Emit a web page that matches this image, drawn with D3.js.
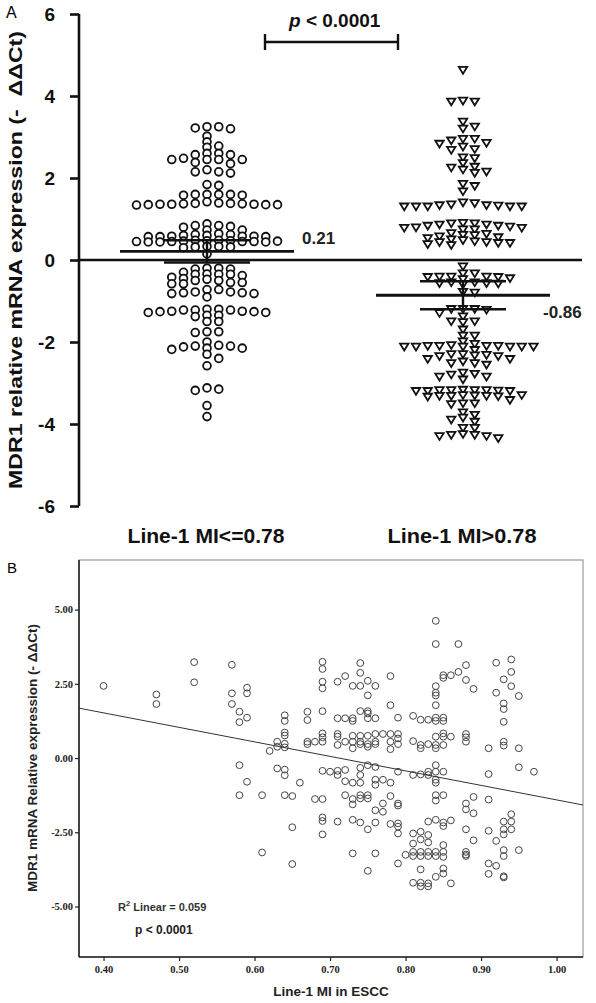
<!DOCTYPE html>
<html><head><meta charset="utf-8">
<script src="https://cdn.jsdelivr.net/npm/d3@7"></script>
<style>body{margin:0;background:#fff}svg{display:block}</style>
</head><body>
<script>
// ---------- Panel A data ----------
const groups = ["Line-1 MI<=0.78", "Line-1 MI>0.78"];
const groupLow = [
  3.25,3.22,3.2,3.25,3.02,
  2.88,2.78,2.75,
  2.6,2.57,2.48,2.45,2.45,2.45,2.45,2.57,2.6,2.35,2.38,
  2.15,2.12,2.15,2.2,
  1.82,1.84,
  1.6,1.6,1.58,1.6,1.6,1.58,
  1.38,1.37,1.36,1.36,1.35,1.35,1.34,1.35,1.36,1.37,1.38,1.39,1.42,
  0.8,0.84,0.82,0.84,0.88,0.73,0.73,
  0.62,0.6,0.58,0.58,0.57,0.57,0.57,0.58,0.6,0.62,0.64,
  0.47,0.46,0.45,0.45,0.44,0.44,0.44,0.45,0.45,0.46,0.47,0.48,0.48,
  0.32,0.33,0.3,0.32,0.33,
  0.15,
  -0.22,-0.2,-0.22,-0.2,-0.3,-0.34,
  -0.35,-0.35,-0.42,-0.47,-0.5,-0.55,-0.58,-0.58,-0.55,-0.5,-0.45,-0.38,-0.35,
  -0.72,-0.78,-0.8,-0.82,-0.9,-0.82,-0.8,-0.78,-0.72,
  -1.22,-1.25,-1.26,-1.28,-1.2,-1.22,-1.22,-1.28,-1.26,-1.25,-1.2,-1.35,-1.35,-1.5,-1.38,-1.5,
  -1.75,-1.77,-1.75,
  -2.0,-2.1,-2.12,-2.15,-2.18,-2.15,-2.1,-2.08,-2.3,-2.4,-2.58,
  -3.18,-3.15,-3.12,
  -3.55,-3.82
];
const groupHigh = [
  4.63,
  3.86,3.86,3.88,
  3.37,3.2,3.25,
  2.95,2.83,2.91,2.76,2.85,2.95,2.68,2.7,
  2.48,2.5,
  2.36,2.27,2.15,2.12,2.2,2.25,
  1.85,1.67,1.8,
  1.38,1.33,1.3,1.3,1.3,1.3,1.3,1.32,1.33,1.35,1.4,
  0.89,0.86,0.83,0.81,0.78,0.74,0.9,0.74,0.78,0.79,0.83,0.86,0.89,
  0.65,0.63,0.61,
  0.57,0.53,0.45,0.43,0.41,0.38,0.36,0.41,0.43,0.48,0.5,0.55,0.6,
  -0.16,
  -0.33,-0.41,-0.42,-0.45,-0.47,-0.41,-0.41,-0.42,-0.33,
  -0.55,-0.57,-0.58,-0.6,-0.57,-0.55,
  -0.78,-0.8,
  -1.2,-1.2,-1.22,-1.2,-1.38,-1.3,
  -1.5,-1.5,-1.52,
  -1.7,-1.85,-1.85,-1.99,
  -2.08,-2.1,-2.1,-2.12,-2.12,-2.12,-2.2,-2.12,-2.12,-2.12,-2.1,-2.1,-2.05,
  -2.3,-2.3,-2.32,-2.42,-2.52,-2.52,-2.56,-2.48,-2.42,-2.35,-2.35,-2.33,
  -2.78,-2.85,-2.92,-2.85,-2.8,-2.75,
  -3.18,-3.18,-3.17,-3.18,-3.2,-3.2,-3.19,-3.18,-3.2,
  -3.32,-3.3,-3.33,-3.31,-3.32,-3.3,-3.34,-3.32,
  -3.5,-3.52,-3.5,-3.42,
  -3.78,-3.9,-3.95,-3.85,-3.72,
  -4.1,-4.27,-4.3,-4.35,-4.3,-4.27,-4.25,-4.1
];
const groupMean = [0.21, -0.86];
const groupSem = [0.27, 0.34];
const meanLabels = ["0.21", "-0.86"];
const yTicksA = [-6, -4, -2, 0, 2, 4, 6];
const pTextA = "< 0.0001";

// ---------- Panel B data ----------
const scatterMI = [0.40,0.47,0.52,0.57,0.58,0.59,0.61,0.62,0.63,0.64,0.65,0.66,0.67,0.68,0.69,0.70,0.71,0.72,0.73,0.74,0.75,0.76,0.77,0.78,0.79,0.80,0.81,0.82,0.83,0.84,0.85,0.86,0.87,0.88,0.89,0.91,0.92,0.93,0.94,0.95,0.97];
const scatterExpr = [
  [2.43],
  [2.14,1.82],
  [3.23,2.55],
  [3.14,2.18,1.82],
  [1.56,1.21,-0.24,-1.25],
  [2.37,2.18,1.36,-0.8],
  [-1.25,-3.18],
  [0.24],
  [0.55,0.38,-0.35],
  [1.44,1.25,0.86,0.76,0.48,0.36,-0.39,-0.58,-1.25],
  [-1.28,-2.33,-3.57],
  [-0.83],
  [1.56,1.28,0.55,0.47],
  [0.55,-1.38],
  [3.24,3.0,2.57,2.35,1.58,0.83,0.7,0.55,-0.43,-1.38,-2.0,-2.12,-2.57],
  [-0.46],
  [2.57,1.34,0.81,0.72,0.44,-0.43,-0.57,-2.14],
  [2.76,1.34,0.55,-0.4,-0.78,-1.25],
  [2.43,1.34,1.25,0.75,0.55,0.33,-0.83,-1.38,-1.56,-2.08,-3.21],
  [3.2,2.87,2.43,1.58,0.75,0.55,0.47,-0.33,-0.57,-0.83,-1.25,-1.36,-2.17],
  [2.6,2.11,1.58,1.5,1.34,0.75,0.47,0.38,-0.24,-1.25,-1.36,-2.4,-3.8],
  [2.43,1.34,0.81,0.55,0.47,-0.3,-0.73,-0.9,-1.76,-2.17,-3.21],
  [0.81,-0.73,-1.53,-1.81],
  [2.76,1.78,0.81,0.55,0.3,-0.83,-1.28,-2.22],
  [1.36,0.81,0.66,0.47,-0.46,-1.53,-1.6,-2.2,-2.31,-2.54,-3.55],
  [-3.26],
  [1.42,0.57,-0.57,-2.54,-2.88,-3.16,-3.3,-4.2],
  [1.29,0.44,0.33,-0.55,-2.48,-2.74,-3.16,-3.3,-3.75,-4.2,-4.32],
  [1.29,0.47,-0.46,-0.57,-2.14,-2.59,-2.84,-3.16,-3.3,-4.22,-4.32],
  [4.62,3.84,2.42,2.2,2.11,1.78,1.36,1.25,0.72,0.44,0.33,-0.24,-0.46,-0.73,-0.83,-1.25,-1.43,-2.08,-3.16,-3.3,-4.0],
  [2.79,2.7,1.36,1.25,0.83,0.72,0.44,-0.46,-1.25,-2.17,-2.29,-2.93,-3.16,-3.33,-3.72,-3.89],
  [2.79,0.72,-2.1,-4.22],
  [3.84,2.9],
  [3.13,2.63,0.81,0.7,0.55,-1.53,-1.73,-2.4,-3.16,-3.25,-3.3],
  [2.33,-1.31,-1.86,-2.77],
  [0.33,-0.54,-1.4,-2.45,-3.55,-3.9],
  [3.21,2.2,-2.79,-3.63],
  [2.65,1.84,1.65,1.22,0.55,0.42,-2.14,-2.4,-2.57,-3.1,-3.3,-3.98,-4.02],
  [3.32,2.9,2.42,-1.89,-2.14,-2.4],
  [2.09,0.33,-0.31,-3.1],
  [-0.46]
];
const fitCoef = [3.476, -4.885]; // intercept, slope
const xTicksB = [0.4, 0.5, 0.6, 0.7, 0.8, 0.9, 1.0];
const yTicksB = [-5, -2.5, 0, 2.5, 5];
const r2Text = "Linear = 0.059";
const pTextB = "p < 0.0001";

// ---------- Drawing ----------
const W = 596, H = 1003;
const svg = d3.select("body").append("svg").attr("width", W).attr("height", H)
  .style("font-family", "'Liberation Sans', Arial, sans-serif");

// ===== Panel A =====
const yA = d3.scaleLinear().domain([-6, 6]).range([506, 14]);
const xA = d3.scalePoint().domain(groups).range([207, 463]);
const colStep = 11.75;

svg.append("text").attr("x", 6).attr("y", 18).attr("font-size", 16).text("A");

const axA = svg.append("g").attr("transform", "translate(79,0)")
  .call(d3.axisLeft(yA).tickValues(yTicksA).tickSize(9).tickFormat(d => String(d)));
axA.select(".domain").attr("stroke", "#111").attr("stroke-width", 2.6)
  .attr("d", `M0,${yA(6)}V${yA(-6)}`);
axA.selectAll(".tick line").attr("stroke", "#111").attr("stroke-width", 2.6);
axA.selectAll(".tick text").attr("font-size", 19).attr("font-weight", "bold")
  .attr("fill", "#111").attr("x", -24).attr("dy", "0.36em")
  .style("font-family", "'Liberation Sans', Arial, sans-serif");

svg.append("text")
  .attr("transform", `translate(22,${(yA(6)+yA(-6))/2}) rotate(-90)`)
  .attr("text-anchor", "middle").attr("font-size", 19).attr("font-weight", "bold")
  .attr("fill", "#111").style("white-space", "pre")
  .attr("textLength", 458).attr("lengthAdjust", "spacingAndGlyphs")
  .text("MDR1 relative mRNA expression (-  \u0394\u0394Ct)");

// zero line
svg.append("line").attr("x1", 79).attr("x2", 582).attr("y1", yA(0)).attr("y2", yA(0))
  .attr("stroke", "#111").attr("stroke-width", 2.6);

function swarm(values, y, minGap) {
  const pts = values.map(v => ({ v, y: y(v) })).sort((a, b) => a.y - b.y);
  const placed = [];
  for (const p of pts) {
    for (let k = 0; k < 60; k++) {
      const col = k === 0 ? 0 : (k % 2 === 1 ? (k + 1) / 2 : -k / 2);
      if (!placed.some(q => q.col === col && Math.abs(q.y - p.y) < minGap)) {
        p.col = col; placed.push(p); break;
      }
    }
  }
  return pts;
}

const lowPts = swarm(groupLow, yA, 5.2);
svg.append("g").selectAll("circle").data(lowPts).join("circle")
  .attr("cx", d => xA(groups[0]) + d.col * colStep).attr("cy", d => d.y)
  .attr("r", 3.9).attr("fill", "#fff").attr("stroke", "#111").attr("stroke-width", 1.8);

const highPts = swarm(groupHigh, yA, 5.2);
svg.append("g").selectAll("path").data(highPts).join("path")
  .attr("transform", d => `translate(${xA(groups[1]) + d.col * colStep},${d.y})`)
  .attr("d", "M-4.2,-3.2L4.2,-3.2L0,3.6Z")
  .attr("fill", "#fff").attr("stroke", "#111").attr("stroke-width", 1.8).attr("stroke-linejoin", "miter");

// mean and SEM
groups.forEach((g, i) => {
  const cx = xA(g), m = groupMean[i], s = groupSem[i];
  const gg = svg.append("g").attr("stroke", "#111");
  gg.append("line").attr("x1", cx - 87).attr("x2", cx + 87).attr("y1", yA(m)).attr("y2", yA(m)).attr("stroke-width", 2.8);
  gg.append("line").attr("x1", cx - 43).attr("x2", cx + 43).attr("y1", yA(m + s)).attr("y2", yA(m + s)).attr("stroke-width", 2.4);
  gg.append("line").attr("x1", cx - 43).attr("x2", cx + 43).attr("y1", yA(m - s)).attr("y2", yA(m - s)).attr("stroke-width", 2.4);
  gg.append("line").attr("x1", cx).attr("x2", cx).attr("y1", yA(m + s)).attr("y2", yA(m - s)).attr("stroke-width", 2.4);
});
svg.append("text").attr("x", xA(groups[0]) + 95).attr("y", yA(groupMean[0]) - 7)
  .attr("font-size", 17).attr("font-weight", "bold").attr("fill", "#222").text(meanLabels[0]);
svg.append("text").attr("x", xA(groups[1]) + 80).attr("y", yA(groupMean[1]) + 23)
  .attr("font-size", 17).attr("font-weight", "bold").attr("fill", "#222").text(meanLabels[1]);

// category labels
svg.append("g").selectAll("text").data(groups).join("text")
  .attr("x", d => xA(d) - 1).attr("y", 543).attr("text-anchor", "middle")
  .attr("font-size", 20).attr("font-weight", "bold").attr("fill", "#111")
  .attr("textLength", (d, i) => i === 0 ? 157 : 149).attr("lengthAdjust", "spacingAndGlyphs")
  .text(d => d);

// significance bracket
const br = svg.append("g").attr("stroke", "#111").attr("stroke-width", 2.4);
br.append("line").attr("x1", 265).attr("x2", 398).attr("y1", 42).attr("y2", 42);
br.append("line").attr("x1", 265).attr("x2", 265).attr("y1", 34).attr("y2", 50);
br.append("line").attr("x1", 398).attr("x2", 398).attr("y1", 34).attr("y2", 50);
const pt = svg.append("text").attr("x", 289).attr("y", 27).attr("font-size", 19)
  .attr("font-weight", "bold").attr("fill", "#111").style("white-space", "pre");
pt.append("tspan").attr("font-style", "italic").text("p");
pt.append("tspan").text(" " + pTextA);

// ===== Panel B =====
const xB = d3.scaleLinear().domain([0.3675, 1.035]).range([79, 583]);
const yB = d3.scaleLinear().domain([-6.7, 6.67]).range([957, 560]);

svg.append("text").attr("x", 7).attr("y", 573).attr("font-size", 15).text("B");

// frame
svg.append("rect").attr("x", 79).attr("y", 560).attr("width", 504).attr("height", 397)
  .attr("fill", "none").attr("stroke", "#999").attr("stroke-width", 1.2);

const axBy = svg.append("g").attr("transform", "translate(79,0)")
  .call(d3.axisLeft(yB).tickValues(yTicksB).tickSize(4).tickFormat(d3.format(".2f")));
axBy.select(".domain").attr("stroke", "#222").attr("stroke-width", 1.6).attr("d", "M0,560V957");
axBy.selectAll(".tick line").attr("stroke", "#222").attr("stroke-width", 1.2);
axBy.selectAll(".tick text").attr("font-size", 10.5).attr("font-weight", "bold").attr("fill", "#222")
  .attr("x", -6).text(d => d.toFixed(2))
  .style("font-family", "'Liberation Serif', 'Times New Roman', serif");

const axBx = svg.append("g").attr("transform", "translate(0,957)")
  .call(d3.axisBottom(xB).tickValues(xTicksB).tickSize(4).tickFormat(d3.format(".2f")));
axBx.select(".domain").attr("stroke", "#222").attr("stroke-width", 1.6).attr("d", "M79,0H583");
axBx.selectAll(".tick line").attr("stroke", "#222").attr("stroke-width", 1.2);
axBx.selectAll(".tick text").attr("font-size", 10.5).attr("font-weight", "bold").attr("fill", "#222")
  .attr("y", 9)
  .style("font-family", "'Liberation Serif', 'Times New Roman', serif");

svg.append("text")
  .attr("transform", `translate(37,${yB(0)}) rotate(-90)`)
  .attr("text-anchor", "middle").attr("font-size", 12).attr("font-weight", "bold").attr("fill", "#222")
  .attr("textLength", 268).attr("lengthAdjust", "spacingAndGlyphs")
  .text("MDR1 mRNA Relative expression (- \u0394\u0394Ct)");
svg.append("text").attr("x", (79 + 583) / 2).attr("y", 996).attr("text-anchor", "middle")
  .attr("font-size", 13.5).attr("font-weight", "bold").attr("fill", "#222").text("Line-1 MI in ESCC");

// scatter points
const bPts = [];
scatterMI.forEach((x, i) => scatterExpr[i].forEach(y => bPts.push({ x, y })));
svg.append("g").selectAll("circle").data(bPts).join("circle")
  .attr("cx", d => xB(d.x)).attr("cy", d => yB(d.y)).attr("r", 3.4)
  .attr("fill", "none").attr("stroke", "#444").attr("stroke-width", 1);

// fit line
const fx = xB.domain();
svg.append("line").attr("x1", xB(fx[0])).attr("x2", xB(fx[1]))
  .attr("y1", yB(fitCoef[0] + fitCoef[1] * fx[0])).attr("y2", yB(fitCoef[0] + fitCoef[1] * fx[1]))
  .attr("stroke", "#333").attr("stroke-width", 1);

const r2 = svg.append("text").attr("x", 118).attr("y", 911).attr("font-size", 11)
  .attr("font-weight", "bold").attr("fill", "#333");
r2.append("tspan").text("R");
r2.append("tspan").attr("dy", -5).attr("font-size", 7.5).text("2");
r2.append("tspan").attr("dy", 5).text(" " + r2Text);
svg.append("text").attr("x", 135).attr("y", 934).attr("font-size", 12)
  .attr("font-weight", "bold").attr("fill", "#222").text(pTextB);
</script>
</body></html>
